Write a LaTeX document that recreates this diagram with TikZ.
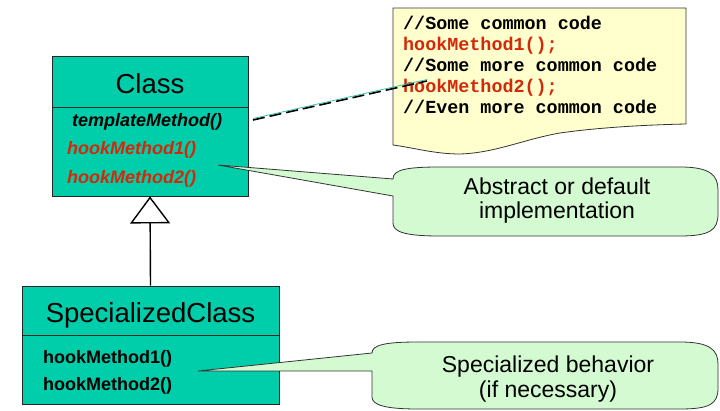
\documentclass[tikz,border=0pt]{standalone}
\usepackage{fontspec}
\setmainfont{Liberation Sans}
\newfontfamily\codefont{Liberation Mono}
\usetikzlibrary{arrows.meta}

\definecolor{classfill}{RGB}{0,206,170}
\definecolor{notefill}{RGB}{255,255,206}
\definecolor{bubblefill}{RGB}{212,250,210}
\definecolor{hookred}{RGB}{212,40,10}
\definecolor{linkteal}{RGB}{40,190,170}

\tikzset{
  classbox/.style={draw=black!85, line width=0.9pt, fill=classfill, inner sep=0pt},
  txt/.style={inner sep=0pt, anchor=base west},
  title/.style={inner sep=0pt, anchor=base, font=\fontsize{27.5}{30}\selectfont},
  absmethod/.style={txt, font=\fontsize{18}{20}\selectfont\bfseries\itshape},
  concmethod/.style={txt, font=\fontsize{18}{20}\selectfont\bfseries},
  codeline/.style={txt, font=\fontsize{18.4}{20}\codefont\bfseries},
  bubble/.style={draw=black!80, line width=0.8pt, fill=bubblefill},
  bubbletext/.style={inner sep=0pt, anchor=base, font=\fontsize{23}{25}\selectfont},
  note/.style={draw=black!80, line width=0.8pt, fill=notefill}
}

\begin{document}
\begin{tikzpicture}[x=1pt, y=-1pt]
\useasboundingbox (0,0) rectangle (720,411);

% ---- code note ----
\draw[note] (393,8) -- (686,8) -- (686,124)
  .. controls (640,125) and (595,128) .. (560,133)
  .. controls (525,139) and (495,153) .. (460,154)
  .. controls (435,154) and (415,148) .. (393,145) -- cycle;
\node[codeline]             (c1) at (403,29.5)  {//Some common code};
\node[codeline, hookred]    (c2) at (403,50.5)  {hookMethod1();};
\node[codeline]             (c3) at (403,71.5)  {//Some more common code};
\node[codeline, hookred]    (c4) at (403,92.5)  {hookMethod2();};
\node[codeline]             (c5) at (403,113.5) {//Even more common code};

% ---- abstract class ----
\node[classbox, minimum width=196pt, minimum height=140pt] (cls) at (150,126) {};
\draw[black!85, line width=0.9pt] (52,107) -- (248,107);
\node[title] (clsname) at (150,94) {Class};
\node[absmethod]          (tm) at (72,127) {templateMethod()};
\node[absmethod, hookred] (h1) at (67,155) {hookMethod1()};
\node[absmethod, hookred] (h2) at (67,184) {hookMethod2()};

% ---- concrete class ----
\node[classbox, minimum width=257pt, minimum height=118pt] (spec) at (150.5,345) {};
\draw[black!85, line width=0.9pt] (22,335) -- (279,335);
\node[title] (specname) at (150.5,323) {SpecializedClass};
\node[concmethod] (s1) at (43,363) {hookMethod1()};
\node[concmethod] (s2) at (43,391) {hookMethod2()};

% ---- generalization ----
\draw[line width=1.4pt, -{Triangle[open, length=27pt, width=40pt, line width=1.4pt]}]
  (spec.north) -- (cls.south);

% ---- link from templateMethod to the code note ----
\coordinate (linkA) at (253,120);
\coordinate (linkB) at (427,81);
\draw[linkteal, line width=0.7pt] ([yshift=1.5pt]linkA) -- ([yshift=1.5pt]linkB);
\draw[black, line width=1.6pt, dash pattern=on 12pt off 5pt] (linkA) -- (linkB);

% ---- callout: abstract or default ----
\coordinate (tipA) at (218,165);
\draw[bubble] (tipA) -- (393,179)
  .. controls (393,170) and (405,167) .. (440,167) -- (680,167)
  .. controls (710,167) and (718,175) .. (718,190) -- (718,214)
  .. controls (718,230) and (710,236) .. (680,236) -- (440,236)
  .. controls (405,236) and (393,232) .. (393,223) -- (393,196) -- cycle;
\node[bubbletext] (ba1) at (557,195) {Abstract or default};
\node[bubbletext] (ba2) at (557,219) {implementation};

% ---- callout: specialized behavior ----
\coordinate (tipB) at (198,371);
\draw[bubble] (tipB) -- (372,353)
  .. controls (372,345) and (385,342) .. (418,342) -- (680,342)
  .. controls (710,342) and (718,350) .. (718,364) -- (718,388)
  .. controls (718,404) and (710,409) .. (680,409) -- (418,409)
  .. controls (385,409) and (372,405) .. (372,397) -- (372,371) -- cycle;
\node[bubbletext] (bb1) at (548,373) {Specialized behavior};
\node[bubbletext] (bb2) at (548,398) {(if necessary)};
\end{tikzpicture}
\end{document}
